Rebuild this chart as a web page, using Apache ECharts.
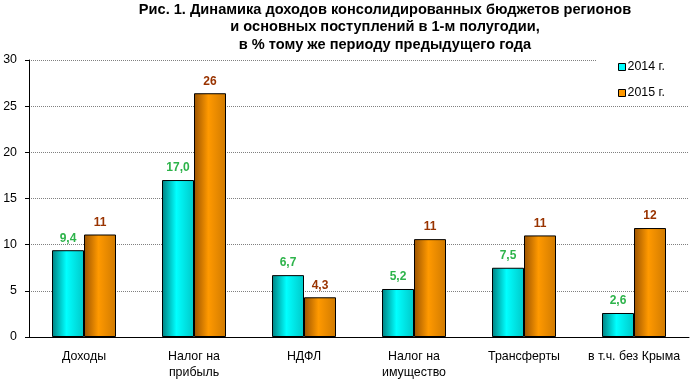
<!DOCTYPE html>
<html><head><meta charset="utf-8">
<script src="https://cdn.jsdelivr.net/npm/echarts@6/dist/echarts.min.js"></script>
<style>html,body{margin:0;padding:0;background:#fff}#c{width:691px;height:382px}</style>
</head><body><div id="c"></div>
<script>
const categories = ['Доходы', 'Налог на\nприбыль', 'НДФЛ', 'Налог на\nимущество', 'Трансферты', 'в т.ч. без Крыма'];
const seriesNames = ['2014 г.', '2015 г.'];
const values2014 = [9.4, 17.0, 6.7, 5.2, 7.5, 2.6];
const values2015 = [11.1, 26.4, 4.3, 10.6, 11.0, 11.8];
const yTicks = [0, 5, 10, 15, 20, 25, 30];
const titleLines = ['Рис. 1. Динамика доходов консолидированных бюджетов регионов', 'и основных поступлений в 1-м полугодии,', 'в % тому же периоду предыдущего года'];

const font = "'Liberation Sans', Arial, sans-serif";
const chart = echarts.init(document.getElementById('c'));
function grad(a, b, c) {
  return new echarts.graphic.LinearGradient(0, 0, 1, 0, [
    {offset: 0, color: a}, {offset: 0.45, color: b}, {offset: 1, color: c}
  ]);
}
const fmt14 = p => p.value.toFixed(1).replace('.', ',');
const fmt15 = p => p.value < 10 ? p.value.toFixed(1).replace('.', ',') : String(Math.round(p.value));
chart.setOption({
  animation: false,
  backgroundColor: '#fff',
  title: {
    text: titleLines.join('\n'),
    left: 380, top: -4, textAlign: 'center',
    textStyle: {fontFamily: font, fontWeight: 'bold', fontSize: 14.6, lineHeight: 17.5, color: '#000'}
  },
  legend: {
    orient: 'vertical', left: 596, top: 56,
    backgroundColor: '#fff', padding: [5, 30, 5, 22],
    itemWidth: 7, itemHeight: 7, itemGap: 14, icon: 'rect',
    textStyle: {fontFamily: font, fontSize: 12.4, color: '#000', padding: [0, 0, 0, -3]},
    data: [
      {name: seriesNames[0], itemStyle: {color: '#00ffff', borderColor: '#000', borderWidth: 1}},
      {name: seriesNames[1], itemStyle: {color: '#ff9900', borderColor: '#000', borderWidth: 1}}
    ]
  },
  grid: {left: 29, right: 2, top: 60, bottom: 45, containLabel: false},
  xAxis: {
    type: 'category', data: categories,
    axisLine: {lineStyle: {color: '#000', width: 1}},
    axisTick: {show: false},
    axisLabel: {fontFamily: font, fontSize: 12.4, color: '#000', margin: 12, lineHeight: 16, interval: 0}
  },
  yAxis: {
    type: 'value', min: 0, max: 30, interval: 5,
    axisLine: {show: true, lineStyle: {color: '#000', width: 1}},
    axisTick: {show: true, length: 4, lineStyle: {color: '#000'}},
    axisLabel: {fontFamily: font, fontSize: 12.4, color: '#000', margin: 12},
    splitLine: {lineStyle: {color: '#808080', type: 'dotted', width: 1}}
  },
  series: [
    {
      name: seriesNames[0], type: 'bar', data: values2014, barWidth: 32, barGap: '0%',
      itemStyle: {color: grad('#008080', '#00ffff', '#00c8c8'), borderColor: '#000', borderWidth: 1},
      label: {show: true, position: 'top', distance: 6, formatter: fmt14, fontFamily: font, fontSize: 12, fontWeight: 'bold', color: '#2db34a'}
    },
    {
      name: seriesNames[1], type: 'bar', data: values2015, barWidth: 32, barGap: '0%',
      itemStyle: {color: grad('#9a5200', '#ff9900', '#d07a00'), borderColor: '#000', borderWidth: 1},
      label: {show: true, position: 'top', distance: 6, formatter: fmt15, fontFamily: font, fontSize: 12, fontWeight: 'bold', color: '#993300'}
    }
  ]
});
</script></body></html>
